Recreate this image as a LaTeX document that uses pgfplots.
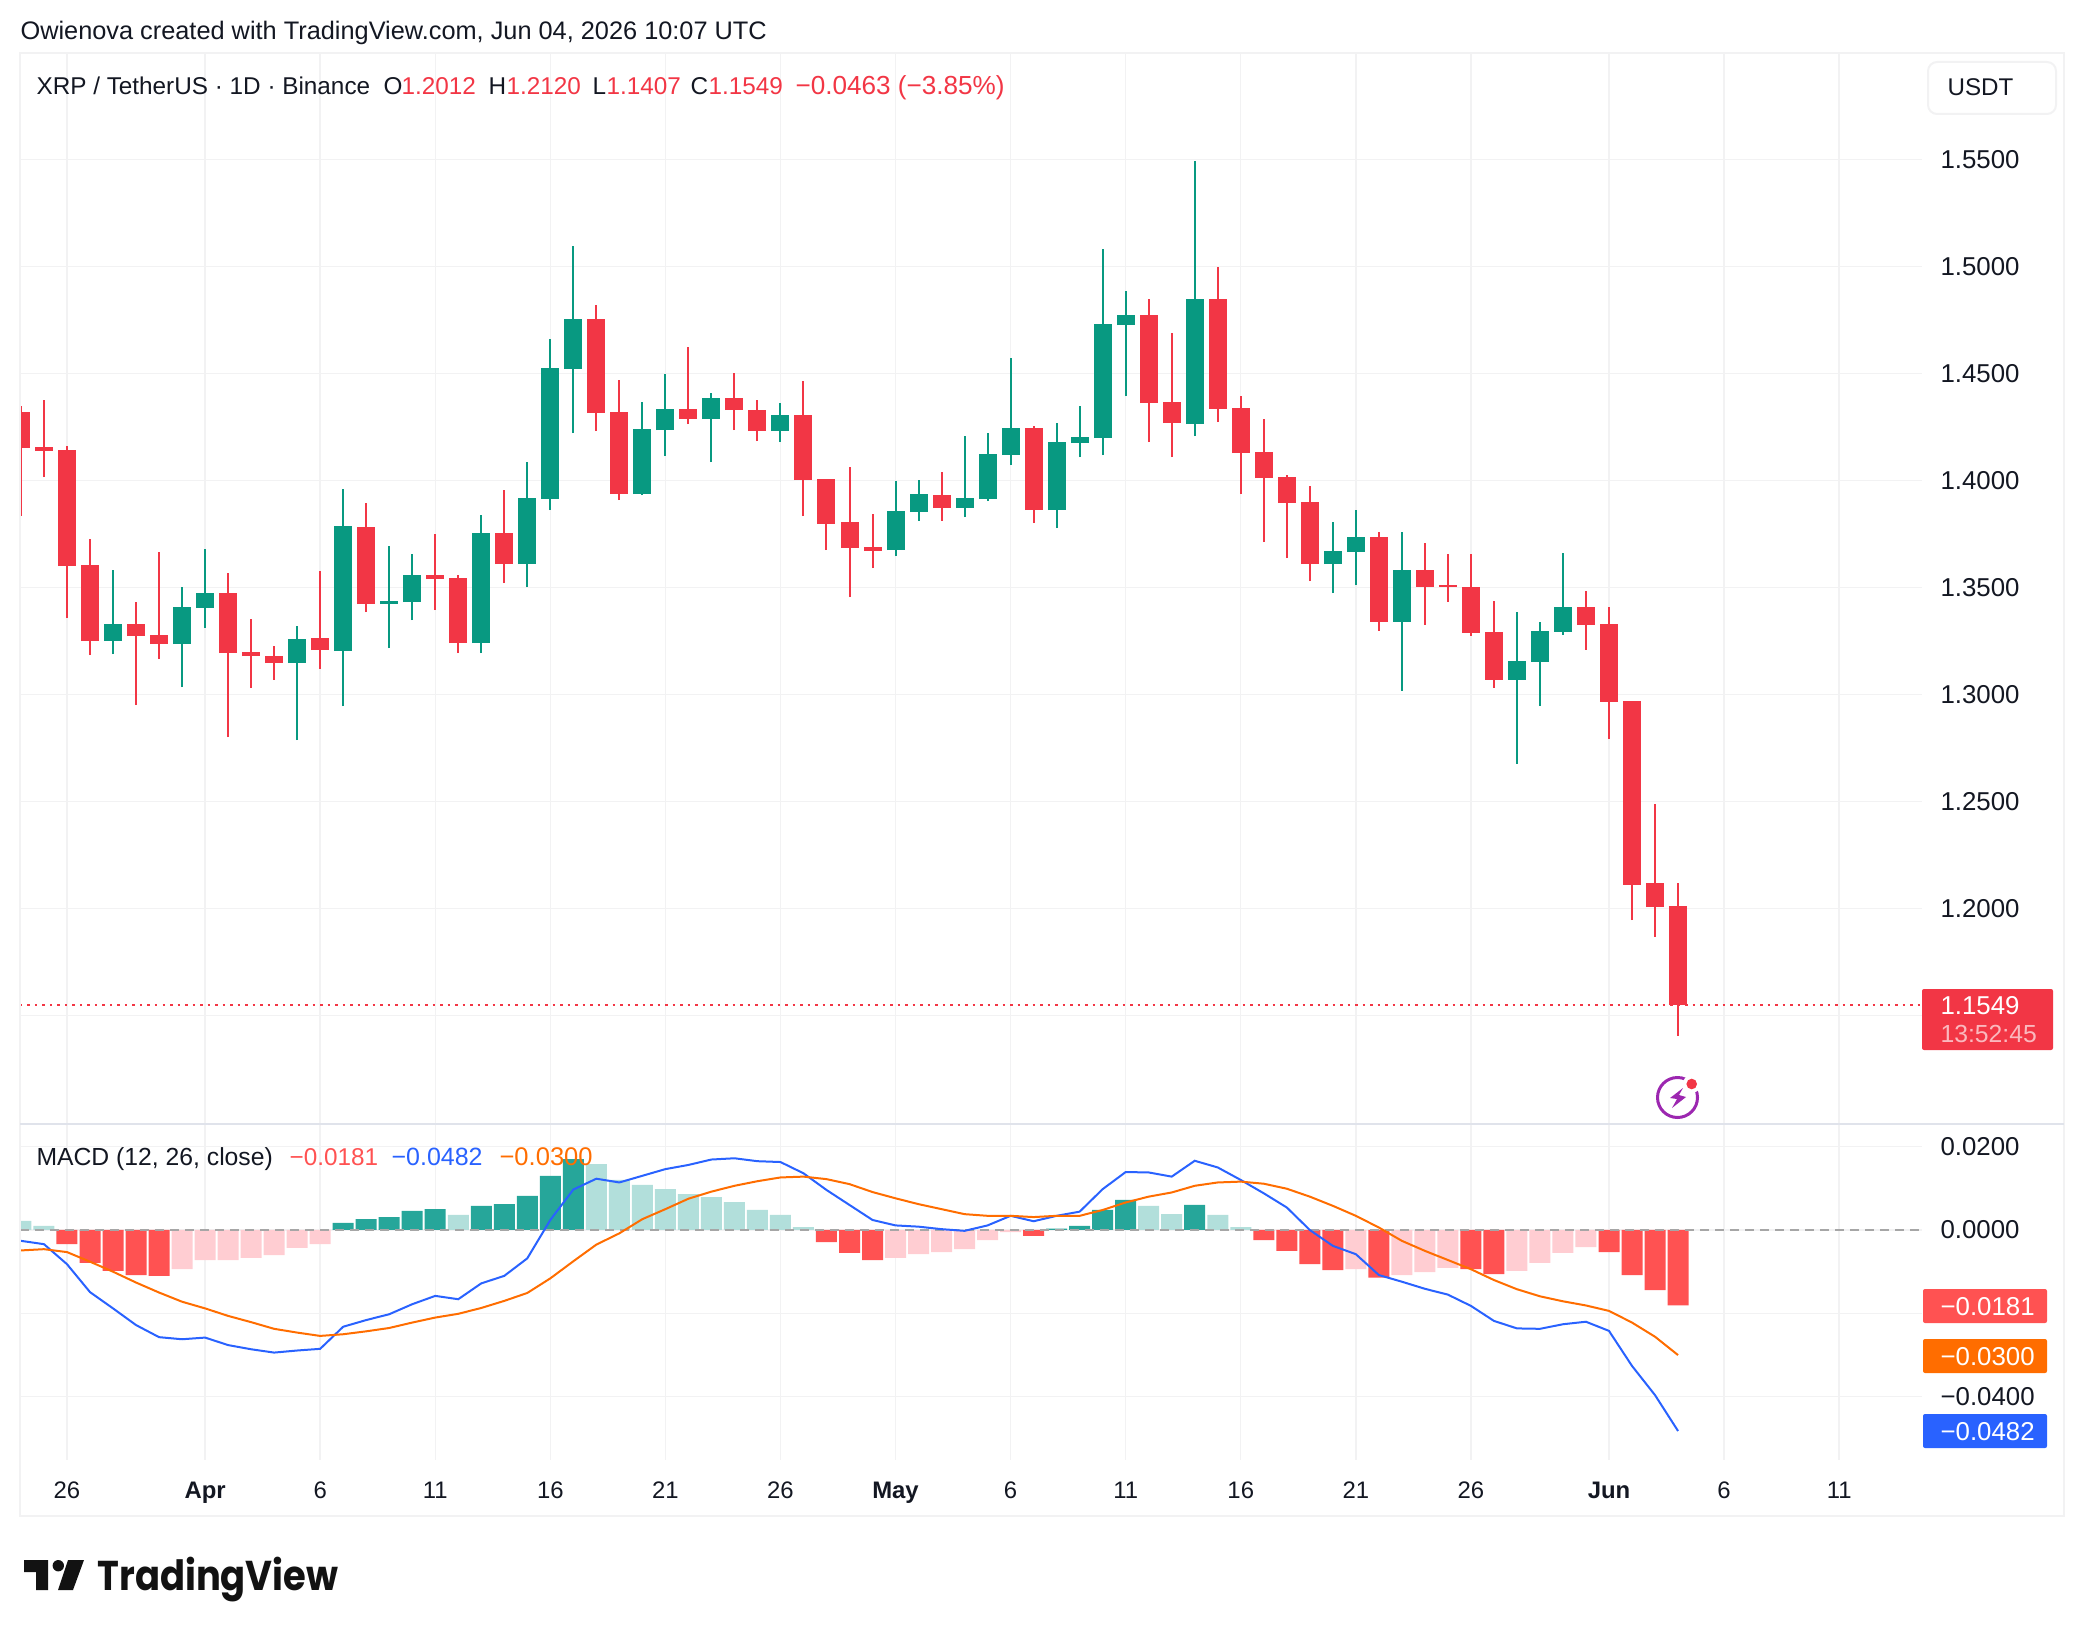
\documentclass[border=0pt]{standalone}
\usepackage{fontspec}
\setmainfont{Liberation Sans}
\newfontfamily\logofont{Poppins}
\usepackage{pgfplots}
\usepackage{pgfplotstable}
\pgfplotsset{compat=1.18}
\def\u{0.36pt}
\newcommand\fs[1]{\fontsize{#1}{#1}\selectfont}
\definecolor{upc}{HTML}{089981}
\definecolor{dnc}{HTML}{F23645}
\definecolor{hup}{HTML}{26A69A}
\definecolor{hupl}{HTML}{B2DFDB}
\definecolor{hdn}{HTML}{FF5252}
\definecolor{hdnl}{HTML}{FFCDD2}
\definecolor{mblue}{HTML}{2962FF}
\definecolor{morange}{HTML}{FF6D00}
\definecolor{txt}{HTML}{131722}
\definecolor{gridc}{HTML}{F2F2F3}
\definecolor{sepc}{HTML}{E0E3EB}

\pgfplotstableread{
i open high low close
-2 1.4321 1.4349 1.3835 1.4153
-1 1.4157 1.4377 1.4017 1.4139
0 1.4143 1.4162 1.3358 1.3601
1 1.3606 1.3727 1.3185 1.3251
3 1.3330 1.3433 1.2952 1.3274
4 1.3279 1.3667 1.3167 1.3237
7 1.3475 1.3569 1.2802 1.3195
8 1.3199 1.3354 1.3031 1.3181
9 1.3181 1.3227 1.3069 1.3148
11 1.3265 1.3578 1.3120 1.3209
13 1.3783 1.3896 1.3386 1.3424
16 1.3559 1.3751 1.3396 1.3540
17 1.3545 1.3559 1.3195 1.3241
19 1.3755 1.3956 1.3522 1.3611
23 1.4755 1.4821 1.4232 1.4316
24 1.4321 1.4470 1.3910 1.3938
27 1.4335 1.4625 1.4265 1.4288
29 1.4386 1.4503 1.4237 1.4330
30 1.4330 1.4377 1.4185 1.4232
32 1.4307 1.4466 1.3835 1.4003
33 1.4008 1.4008 1.3676 1.3798
34 1.3807 1.4064 1.3456 1.3685
35 1.3690 1.3844 1.3592 1.3671
38 1.3933 1.4040 1.3812 1.3872
42 1.4246 1.4255 1.3802 1.3863
47 1.4774 1.4849 1.4181 1.4363
48 1.4368 1.4690 1.4111 1.4269
50 1.4849 1.4998 1.4274 1.4335
51 1.4340 1.4396 1.3938 1.4129
52 1.4134 1.4288 1.3713 1.4012
53 1.4017 1.4026 1.3639 1.3896
54 1.3900 1.3975 1.3531 1.3611
57 1.3738 1.3759 1.3300 1.3341
59 1.3584 1.3711 1.3326 1.3505
60 1.3513 1.3659 1.3434 1.3505
61 1.3505 1.3659 1.3276 1.3289
62 1.3294 1.3439 1.3033 1.3071
66 1.3411 1.3486 1.3210 1.3326
67 1.3332 1.3411 1.2793 1.2967
68 1.2972 1.2972 1.1947 1.2112
69 1.2121 1.2491 1.1869 1.2008
70 1.2012 1.2120 1.1407 1.1549
}\downtable

\pgfplotstableread{
i open high low close
2 1.3251 1.3583 1.3190 1.3330
5 1.3237 1.3503 1.3036 1.3410
6 1.3405 1.3681 1.3312 1.3475
10 1.3148 1.3321 1.2788 1.3260
12 1.3204 1.3961 1.2947 1.3788
14 1.3424 1.3695 1.3218 1.3438
15 1.3433 1.3657 1.3349 1.3559
18 1.3241 1.3840 1.3195 1.3755
20 1.3611 1.4087 1.3503 1.3919
21 1.3914 1.4662 1.3863 1.4526
22 1.4522 1.5097 1.4223 1.4755
25 1.3938 1.4368 1.3933 1.4241
26 1.4237 1.4498 1.4115 1.4335
28 1.4288 1.4410 1.4087 1.4386
31 1.4232 1.4363 1.4181 1.4307
36 1.3676 1.3998 1.3648 1.3858
37 1.3854 1.4003 1.3812 1.3938
39 1.3872 1.4209 1.3830 1.3919
40 1.3914 1.4223 1.3905 1.4125
41 1.4120 1.4573 1.4073 1.4246
43 1.3863 1.4269 1.3779 1.4181
44 1.4176 1.4349 1.4111 1.4204
45 1.4199 1.5083 1.4120 1.4732
46 1.4727 1.4886 1.4396 1.4774
49 1.4265 1.5494 1.4209 1.4849
55 1.3611 1.3807 1.3475 1.3671
56 1.3667 1.3863 1.3512 1.3737
58 1.3341 1.3761 1.3019 1.3584
63 1.3071 1.3387 1.2677 1.3158
64 1.3155 1.3341 1.2949 1.3300
65 1.3294 1.3663 1.3280 1.3411
}\uptable

\pgfplotstableread{
i macd signal
-2 -.0026 -.0049
-1 -.0034 -.0046
0 -.0082 -.0053
1 -.0149 -.0076
2 -.0188 -.0100
3 -.0228 -.0126
4 -.0257 -.0150
5 -.0262 -.0172
6 -.0258 -.0188
7 -.0276 -.0206
8 -.0286 -.0221
9 -.0294 -.0237
10 -.0289 -.0246
11 -.0285 -.0254
12 -.0232 -.0250
13 -.0216 -.0243
14 -.0202 -.0235
15 -.0178 -.0222
16 -.0158 -.0210
17 -.0166 -.0201
18 -.0128 -.0187
19 -.0110 -.0170
20 -.0068 -.0151
21 .0024 -.0116
22 .0097 -.0075
23 .0123 -.0035
24 .0114 -.0008
25 .0130 .0026
26 .0146 .0050
27 .0156 .0075
28 .0169 .0092
29 .0172 .0106
30 .0165 .0117
31 .0163 .0126
32 .0136 .0128
33 .0096 .0122
34 .0060 .0110
35 .0024 .0091
36 .0011 .0076
37 .0008 .0062
38 .0002 .0050
39 -.0002 .0038
40 .0011 .0034
41 .0034 .0034
42 .0021 .0031
43 .0034 .0034
44 .0044 .0034
45 .0098 .0048
46 .0139 .0066
47 .0138 .0080
48 .0128 .0090
49 .0166 .0106
50 .0150 .0114
51 .0120 .0116
52 .0088 .0111
53 .0054 .0099
54 .0000 .0080
55 -.0038 .0058
56 -.0058 .0034
57 -.0108 .0006
58 -.0124 -.0026
59 -.0141 -.0050
60 -.0155 -.0072
61 -.0182 -.0094
62 -.0218 -.0120
63 -.0236 -.0142
64 -.0237 -.0159
65 -.0226 -.0171
66 -.0220 -.0181
67 -.0242 -.0194
68 -.0326 -.0222
69 -.0396 -.0256
70 -.0482 -.0300
}\macdtable

\pgfplotsset{
  paneaxis/.style={
    scale only axis, width=1902*\u,
    xmin=-2.042, xmax=80.6,
    axis line style={draw=none},
    major tick length=0pt,
    tick style={draw=none},
    grid=major,
    major grid style={gridc, line width=1.4*\u, solid},
    xtick={0,6,11,16,21,26,31,36,41,46,51,56,61,67,72,77},
    scaled y ticks=false,
    yticklabel pos=right,
    yticklabel style={anchor=west, inner sep=0pt, xshift=18*\u, font=\fs{9.3}, text=txt},
  },
  wick/.style={draw=none, no markers, forget plot,
    error bars/.cd, y dir=plus, y explicit, error mark=none,
    error bar style={line width=2*\u, draw=#1, solid}},
  body/.style={draw=none, no markers, forget plot,
    error bars/.cd, y dir=plus, y explicit, error mark=none,
    error bar style={line width=18*\u, draw=#1, solid}},
  hbar/.style={ybar, bar width=21*\u, bar shift=0pt, fill=#1, draw=none, forget plot},
}

\begin{document}
\begin{tikzpicture}[x=\u, y=-\u]
\useasboundingbox (0,0) rectangle (2084,1636);

% price pane
\begin{axis}[paneaxis, at={(20*\u,-1124*\u)}, anchor=south west, height=1071*\u,
  ymin=1.0994, ymax=1.5999,
  ytick={1.15,1.2,1.25,1.3,1.35,1.4,1.45,1.5,1.55},
  yticklabels={,1.2000,1.2500,1.3000,1.3500,1.4000,1.4500,1.5000,1.5500},
  xticklabels={}]
\addplot[wick=dnc] table[x=i, y=low, y error expr=\thisrow{high}-\thisrow{low}] {\downtable};
\addplot[body=dnc] table[x=i, y=close, y error expr=\thisrow{open}-\thisrow{close}] {\downtable};
\addplot[wick=upc] table[x=i, y=low, y error expr=\thisrow{high}-\thisrow{low}] {\uptable};
\addplot[body=upc] table[x=i, y=open, y error expr=\thisrow{close}-\thisrow{open}] {\uptable};
\addplot[dnc, line width=2*\u, dash pattern=on 2.5*\u off 5*\u, forget plot] coordinates {(-2.042,1.1549)(80.6,1.1549)};
\end{axis}

% MACD pane
\begin{axis}[paneaxis, at={(20*\u,-1460*\u)}, anchor=south west, height=336*\u,
  ymin=-.05516, ymax=.02542,
  ytick={.02,0,-.02,-.04},
  yticklabels={0.0200,0.0000,,−0.0400},
  xticklabels={26,\textbf{Apr},6,11,16,21,26,\textbf{May},6,11,16,21,26,\textbf{Jun},6,11},
  xticklabel style={anchor=base, inner sep=0pt, yshift=-38*\u, font=\fs{8.6}, text=txt}]
\addplot[hbar=hupl] coordinates {(-2,.0022)(-1,.0010)(17,.0036)(23,.0158)(24,.0120)(25,.0108)(26,.0098)(27,.0086)(28,.0079)(29,.0067)(30,.0048)(31,.0036)(32,.0007)(47,.0058)(48,.0038)(50,.0036)(51,.0007)};
\addplot[hbar=hup] coordinates {(12,.0017)(13,.0026)(14,.0031)(15,.0046)(16,.0050)(18,.0058)(19,.0062)(20,.0082)(21,.0130)(22,.0170)(43,.0003)(44,.0010)(45,.0048)(46,.0072)(49,.0060)};
\addplot[hbar=hdn] coordinates {(0,-.0034)(1,-.0079)(2,-.0098)(3,-.0108)(4,-.0110)(33,-.0029)(34,-.0055)(35,-.0072)(42,-.0014)(52,-.0024)(53,-.0050)(54,-.0082)(55,-.0096)(57,-.0114)(61,-.0094)(62,-.0106)(67,-.0053)(68,-.0108)(69,-.0144)(70,-.0181)};
\addplot[hbar=hdnl] coordinates {(5,-.0094)(6,-.0072)(7,-.0072)(8,-.0067)(9,-.0060)(10,-.0043)(11,-.0034)(36,-.0067)(37,-.0058)(38,-.0053)(39,-.0046)(40,-.0024)(41,-.0005)(56,-.0094)(58,-.0108)(59,-.0101)(60,-.0091)(63,-.0098)(64,-.0079)(65,-.0055)(66,-.0041)};
\addplot[color=black!35, line width=2*\u, dash pattern=on 9*\u off 6*\u, forget plot] coordinates {(-2.042,0)(80.6,0)};
\addplot[mblue, line width=2*\u, no markers, forget plot] table[x=i, y=macd] {\macdtable};
\addplot[morange, line width=2*\u, no markers, forget plot] table[x=i, y=signal] {\macdtable};
\end{axis}

% frame
\draw[gridc, line width=2*\u] (20,53) -- (2064,53) -- (2064,1516) -- (20,1516) -- cycle;
\draw[sepc, line width=2*\u] (20,1124) -- (2064,1124);

% header
\node[anchor=base west, inner sep=0, text=txt, font=\fs{9.12}] at (20,40) {Owienova created with TradingView.com, Jun 04, 2026 10:07 UTC};
\begin{scope}[every node/.style={anchor=base west, inner sep=0, font=\fs{8.75}}]
\node[text=txt] at (36,95) {XRP / TetherUS · 1D · Binance};
\node[text=txt] at (383,95) {O}; \node[text=dnc] at (401,95) {1.2012};
\node[text=txt] at (488,95) {H}; \node[text=dnc] at (506,95) {1.2120};
\node[text=txt] at (592,95) {L}; \node[text=dnc] at (606,95) {1.1407};
\node[text=txt] at (690,95) {C}; \node[text=dnc] at (708,95) {1.1549};
\node[text=dnc, font=\fs{9.4}] at (795,95) {−0.0463 (−3.85\%)};
% MACD legend
\node[text=txt, font=\fs{8.9}] at (36,1165) {MACD (12, 26, close)};
\node[text=hdn] at (289,1165) {−0.0181};
\node[text=mblue, font=\fs{9}] at (391,1165) {−0.0482};
\node[text=morange, font=\fs{9.2}] at (499,1165) {−0.0300};
\end{scope}

% currency box
\draw[gridc, line width=2*\u, rounded corners=9*\u, fill=white] (1928,62) rectangle (2056,114);
\node[anchor=base west, inner sep=0, text=txt, font=\fs{8.7}] at (1947,96) {USDT};

% price label
\fill[dnc, rounded corners=2*\u] (1922,989) rectangle (2053,1050);
\node[anchor=base west, inner sep=0, text=white, font=\fs{9.3}] at (1940,1014) {1.1549};
\node[anchor=base west, inner sep=0, text=white, opacity=.65, font=\fs{8.9}] at (1940,1042) {13:52:45};

% MACD labels
\fill[hdn, rounded corners=2*\u] (1923,1289) rectangle (2047,1323);
\node[anchor=base west, inner sep=0, text=white, font=\fs{9.3}] at (1940,1315) {−0.0181};
\fill[morange, rounded corners=2*\u] (1923,1339) rectangle (2047,1373);
\node[anchor=base west, inner sep=0, text=white, font=\fs{9.3}] at (1940,1365) {−0.0300};
\fill[mblue, rounded corners=2*\u] (1923,1414) rectangle (2047,1448);
\node[anchor=base west, inner sep=0, text=white, font=\fs{9.3}] at (1940,1440) {−0.0482};

% icon
\definecolor{iconp}{HTML}{9C27B0}
\draw[iconp, line width=3*\u] (1677.5,1097.5) circle[radius=20*\u];
\fill[white] (1691.7,1084) circle[radius=9*\u];
\fill[dnc] (1691.7,1084) circle[radius=5.3*\u];
\fill[iconp] (1683,1088) -- (1670,1098) -- (1677,1099) -- (1672,1108) -- (1686,1097) -- (1679,1095) -- cycle;

% logo
\fill[black!93] (24,1560) -- (48,1560) -- (48,1590) -- (36,1590) -- (36,1572) -- (24,1572) -- cycle;
\fill[black!93] (58.3,1565.7) circle[radius=5.7*\u];
\fill[black!93] (68,1560) -- (84,1560) -- (73,1590) -- (58,1590) -- cycle;
\node[anchor=base west, inner sep=0, text=black!93, font=\logofont\bfseries\fs{15}, xscale=.885, transform shape] at (97,1590) {TradingView};
\end{tikzpicture}
\end{document}
